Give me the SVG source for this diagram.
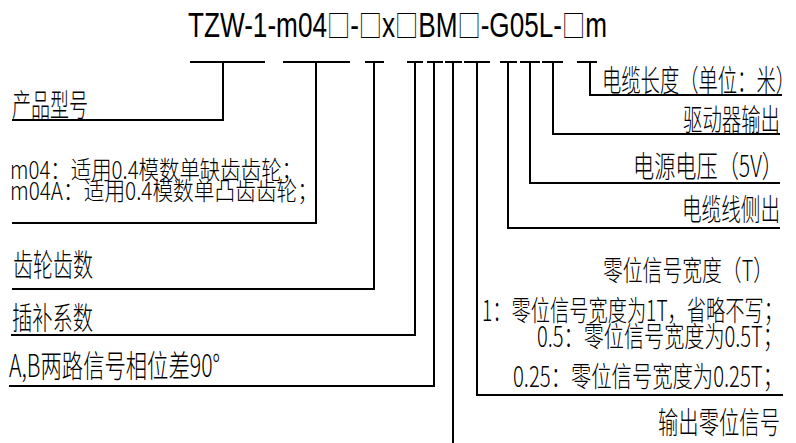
<svg xmlns="http://www.w3.org/2000/svg" width="796" height="443" viewBox="0 0 796 443">
<style>
.c{fill:none;stroke:#000;stroke-width:2}
.t{font-family:"Noto Sans CJK SC","Liberation Sans",sans-serif;fill:#000;font-weight:300}
.l{font-size:31px}
.m{font-size:25px}
.r{font-size:30px;text-anchor:end}
.z{font-size:28px;text-anchor:end}
.title{font-family:"Liberation Sans","DejaVu Sans",sans-serif;font-size:35px;fill:#000}
.sq{font-family:"Noto Sans CJK SC",sans-serif;font-size:31px;font-weight:300}
</style>
<rect width="796" height="443" fill="#fff"/>
<g id="title"><text class="title" x="188" y="37" textLength="419" lengthAdjust="spacingAndGlyphs">TZW-1-m04<tspan class="sq">□</tspan>-<tspan class="sq">□</tspan>x<tspan class="sq">□</tspan>BM<tspan class="sq">□</tspan>-G05L-<tspan class="sq">□</tspan>m</text></g>
<g id="connectors">
<path class="c" d="M190 62H265M223 62V120H12"/>
<path class="c" d="M283 62H350M316 62V223H12"/>
<path class="c" d="M365 62H384M374 62V289H12"/>
<path class="c" d="M407 62H423M415 62V335H11"/>
<path class="c" d="M427 62H443M434 62V386H9"/>
<path class="c" d="M445 62H462M453 62V443"/>
<path class="c" d="M464 62H490M477 62V395H783"/>
<path class="c" d="M500 62H517M508 62V228H780"/>
<path class="c" d="M520 62H540M530 62V183H780"/>
<path class="c" d="M542 62H563M553 62V134H780"/>
<path class="c" d="M577 62H597M590 62V95H782"/>
</g>
<g id="n-product"><text class="t l" x="12" y="116" textLength="76" lengthAdjust="spacingAndGlyphs">产品型号</text></g>
<g id="n-module">
<text class="t m" x="10" y="179" textLength="292" lengthAdjust="spacingAndGlyphs">m04：适用0.4模数单缺齿齿轮；</text>
<text class="t m" x="10" y="200" textLength="308" lengthAdjust="spacingAndGlyphs">m04A：适用0.4模数单凸齿齿轮；</text>
</g>
<g id="n-teeth"><text class="t l" x="13" y="276" textLength="80" lengthAdjust="spacingAndGlyphs">齿轮齿数</text></g>
<g id="n-interp"><text class="t l" x="12" y="329" textLength="81" lengthAdjust="spacingAndGlyphs">插补系数</text></g>
<g id="n-phase"><text class="t l" x="9" y="377" textLength="211" lengthAdjust="spacingAndGlyphs">A,B两路信号相位差90°</text></g>
<g id="n-length"><text class="t r" x="795" y="91" textLength="193" lengthAdjust="spacingAndGlyphs">电缆长度（单位：米）</text></g>
<g id="n-driver"><text class="t r" x="780" y="130" textLength="97" lengthAdjust="spacingAndGlyphs">驱动器输出</text></g>
<g id="n-power"><text class="t r" x="783" y="177" textLength="150" lengthAdjust="spacingAndGlyphs">电源电压（5V）</text></g>
<g id="n-side"><text class="t r" x="780" y="220" textLength="98" lengthAdjust="spacingAndGlyphs">电缆线侧出</text></g>
<g id="n-zwidth">
<text class="t z" x="773" y="281" textLength="170" lengthAdjust="spacingAndGlyphs">零位信号宽度（T）</text>
<text class="t z" x="783" y="321" textLength="301" lengthAdjust="spacingAndGlyphs">1：零位信号宽度为1T，省略不写；</text>
<text class="t z" x="783" y="347" textLength="246" lengthAdjust="spacingAndGlyphs">0.5：零位信号宽度为0.5T；</text>
<text class="t z" x="783" y="387" textLength="270" lengthAdjust="spacingAndGlyphs">0.25：零位信号宽度为0.25T；</text>
</g>
<g id="n-zero"><text class="t r" x="780" y="433" textLength="122" lengthAdjust="spacingAndGlyphs">输出零位信号</text></g>
</svg>
